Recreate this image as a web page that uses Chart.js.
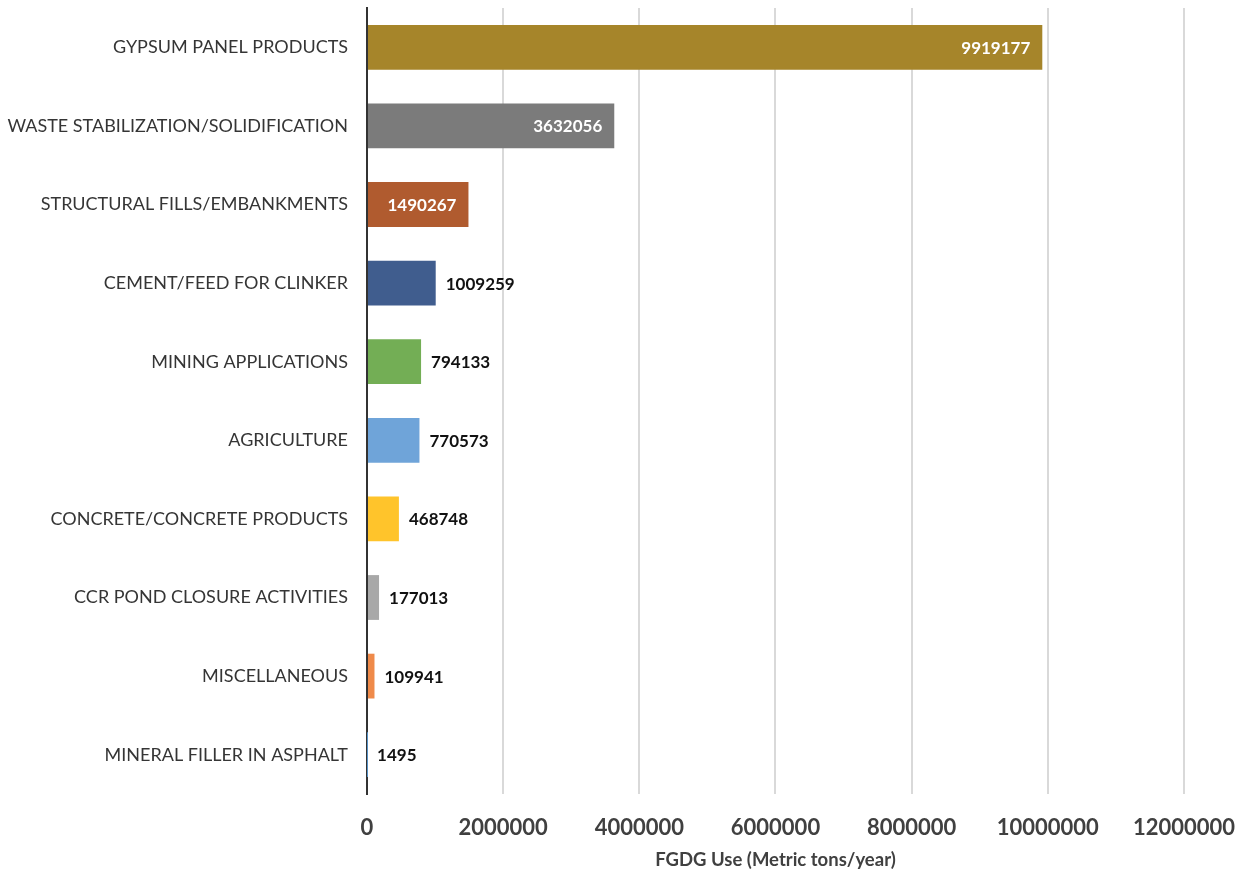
<!DOCTYPE html>
<html>
<head>
<meta charset="utf-8">
<script src="https://cdn.jsdelivr.net/npm/chart.js@4.4.1/dist/chart.umd.min.js"></script>
<style>
  html, body { margin: 0; padding: 0; background: #fff; }
  #wrap { width: 1256px; height: 880px; }
</style>
</head>
<body>
<div id="wrap"><canvas id="fgdgChart"></canvas></div>
<script>
const categories = [
    'GYPSUM PANEL PRODUCTS',
    'WASTE STABILIZATION/SOLIDIFICATION',
    'STRUCTURAL FILLS/EMBANKMENTS',
    'CEMENT/FEED FOR CLINKER',
    'MINING APPLICATIONS',
    'AGRICULTURE',
    'CONCRETE/CONCRETE PRODUCTS',
    'CCR POND CLOSURE ACTIVITIES',
    'MISCELLANEOUS',
    'MINERAL FILLER IN ASPHALT'
];
const fgdgUse = [9919177, 3632056, 1490267, 1009259, 794133, 770573, 468748, 177013, 109941, 1495];
const barColors = ['#a6852a', '#7b7b7b', '#b05b2f', '#405d8e', '#73ae55', '#6fa4d9', '#ffc42b', '#a8a8a8', '#ef8a4a', '#5b9bd5'];
const xTicks = [0, 2000000, 4000000, 6000000, 8000000, 10000000, 12000000];

const fontFamily = 'Lato, "Open Sans", sans-serif';

// simple value labels, first three bars get white text inside the bar end
const valueLabels = {
    id: 'valueLabels',
    afterDatasetsDraw(chart) {
        const ctx = chart.ctx;
        const meta = chart.getDatasetMeta(0);
        ctx.save();
        ctx.font = 'bold 17px ' + fontFamily;
        ctx.textBaseline = 'middle';
        meta.data.forEach((bar, i) => {
            const text = String(fgdgUse[i]);
            if (i < 3) {
                ctx.fillStyle = '#ffffff';
                ctx.textAlign = 'right';
                ctx.fillText(text, bar.x - 12, bar.y + 1);
            } else {
                ctx.fillStyle = '#111111';
                ctx.textAlign = 'left';
                ctx.fillText(text, bar.x + 10, bar.y + 1);
            }
        });
        ctx.restore();
    }
};

new Chart(document.getElementById('fgdgChart').getContext('2d'), {
    type: 'bar',
    data: {
        labels: categories,
        datasets: [{
            data: fgdgUse,
            backgroundColor: barColors,
            borderWidth: 0,
            categoryPercentage: 1,
            barPercentage: 0.57
        }]
    },
    options: {
        indexAxis: 'y',
        responsive: true,
        maintainAspectRatio: false,
        animation: false,
        layout: { padding: { top: 8, right: 71, bottom: 9, left: 0 } },
        plugins: {
            legend: { display: false },
            tooltip: { enabled: false }
        },
        scales: {
            x: {
                min: 0,
                max: 12000000,
                afterBuildTicks: scale => { scale.ticks = xTicks.map(v => ({ value: v })); },
                afterFit: scale => { scale.height = 77; },
                grid: { color: '#d9d9d9', lineWidth: 2, drawTicks: false },
                border: { display: false },
                ticks: {
                    padding: 21,
                    color: '#404040',
                    font: { family: fontFamily, size: 22, weight: 'bold' },
                    maxRotation: 0,
                    callback: v => String(v)
                },
                title: {
                    display: true,
                    text: 'FGDG Use (Metric tons/year)',
                    color: '#404040',
                    font: { family: fontFamily, size: 18.5, weight: 'bold' },
                    padding: { top: 6, bottom: 0 }
                }
            },
            y: {
                afterFit: scale => {
                    scale.width = 367;
                    scale.paddingTop = 0;
                    scale.paddingBottom = 0;
                },
                grid: { display: false, drawTicks: false },
                border: { display: true, color: '#333333', width: 2 },
                ticks: {
                    padding: 19,
                    color: '#353535',
                    font: { family: fontFamily, size: 18 }
                }
            }
        }
    },
    plugins: [valueLabels]
});
</script>
</body>
</html>
